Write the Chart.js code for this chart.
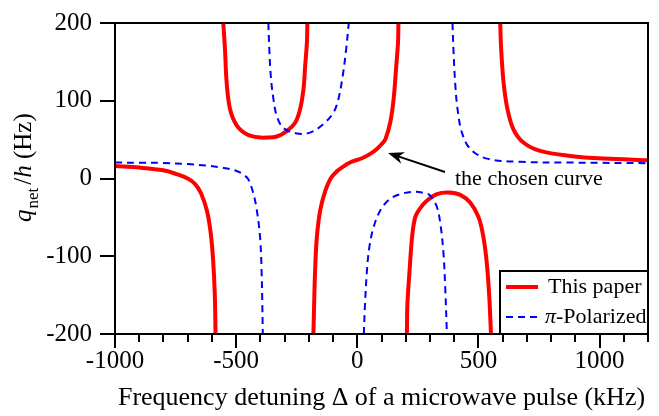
<!DOCTYPE html>
<html>
<head>
<meta charset="utf-8">
<script src="https://cdn.jsdelivr.net/npm/chart.js@4"></script>
<style>
  html, body { margin: 0; padding: 0; background: #fff; }
  #wrap { width: 659px; height: 416px; }
</style>
</head>
<body>
<div id="wrap"><canvas id="myChart" width="659" height="416"></canvas></div>
<script>
// red solid branches (This paper)
const paperX1 = [-1000,-900,-800,-750,-700,-670,-645,-620,-605,-595,-588,-585];
const paperY1 = [16,14,10.5,6,0,-7,-19,-42,-70,-105,-150,-200];
const paperX2 = [-553,-546,-539,-525,-497,-456,-410,-373,-332,-291,-256,-236,-222,-215,-208,-206];
const paperY2 = [200,166,123,89,68,57,53,52.6,54,61,72,89,115,145,174,200];
const paperX3 = [-181,-178,-174,-167,-153,-132,-110,-85,-55,-30,0,26,55,81,100,116,136,150,161,168,170];
const paperY3 = [-200,-161,-118,-76,-41,-16,0,9,16,20.5,24,27,32,38,44,50.5,72,102,145,174,200];
const paperX4 = [205,207,216,226,239,260,287,329,377,425,466,501,521,535,545,552];
const paperY4 = [-200,-161,-118,-76,-50,-38,-28.6,-20,-18,-21,-31,-50,-76,-110,-153,-200];
const paperX5 = [590,594,604,620,645,687,755,879,1017,1200];
const paperY5 = [200,166,123,89,63,46,35.5,29,25.6,23.5];

// blue dashed branches (pi-Polarized)
const piX1 = [-1000,-900,-800,-700,-620,-560,-500,-470,-450,-430,-415,-401,-395,-392,-390];
const piY1 = [20.5,20.3,20,18.5,16.5,14,10,5,-1,-18,-40,-76,-118,-161,-200];
const piX2 = [-367,-363,-357,-346,-332,-305,-250,-195,-140,-98,-78,-60,-46,-35];
const piY2 = [200,166,132,102,80,65,58,59,70,85,102,132,166,200];
const piX3 = [27,32,40,50,67,95,136,191,240,280,301,329,345,356,363,370];
const piY3 = [-200,-161,-118,-88,-63,-41,-26,-19,-17,-19,-22,-37,-63,-97,-140,-200];
const piX4 = [393,397,404,414,432,466,535,673,879,1200];
const piY4 = [200,166,123,89,59,38,25.6,21.5,20.5,19.7];

const xTicks = [-1000,-500,0,500,1000];
const yTicks = [-200,-100,0,100,200];
const seriesNames = ['This paper','π-Polarized'];

const FONT = 'Liberation Serif';

function toPoints(xs, ys){
    return xs.map((x,i) => ({x:x, y:ys[i]}));
}

function branch(xs, ys, dashed){
    return {
        data: toPoints(xs, ys),
        showLine: true,
        pointRadius: 0,
        borderColor: dashed ? '#0000ff' : '#ff0000',
        borderWidth: dashed ? 2 : 4,
        borderDash: dashed ? [7,5] : [],
        tension: 0.35,
        fill: false
    };
}

const datasets = [
    branch(piX1, piY1, true),
    branch(piX2, piY2, true),
    branch(piX3, piY3, true),
    branch(piX4, piY4, true),
    branch(paperX1, paperY1, false),
    branch(paperX2, paperY2, false),
    branch(paperX3, paperY3, false),
    branch(paperX4, paperY4, false),
    branch(paperX5, paperY5, false)
];

// frame, minor ticks, y title, legend, arrow
const extras = {
    id: 'extras',
    afterDraw(chart){
        const ctx = chart.ctx;
        const a = chart.chartArea;
        const xs = chart.scales.x;
        ctx.save();

        // minor ticks
        ctx.strokeStyle = '#000';
        ctx.lineWidth = 2;
        for (let v = -1000; v <= 1200; v += 100){
            if (xTicks.includes(v)) continue;
            const px = Math.round(xs.getPixelForValue(v));
            ctx.beginPath();
            ctx.moveTo(px, a.bottom);
            ctx.lineTo(px, a.bottom + 8);
            ctx.stroke();
        }

        // frame
        ctx.strokeRect(a.left, a.top, a.right - a.left, a.bottom - a.top);

        // y axis title
        ctx.save();
        ctx.translate(31, 222);
        ctx.rotate(-Math.PI/2);
        ctx.fillStyle = '#000';
        ctx.textBaseline = 'alphabetic';
        let x = 0;
        ctx.font = 'italic 25px "' + FONT + '"';
        ctx.fillText('q', x, 0); x += ctx.measureText('q').width + 1;
        ctx.font = '17px "' + FONT + '"';
        ctx.fillText('net', x, 7); x += ctx.measureText('net').width + 3;
        ctx.font = '25px "' + FONT + '"';
        ctx.fillText('/', x, 0); x += ctx.measureText('/').width;
        ctx.font = 'italic 25px "' + FONT + '"';
        ctx.fillText('h', x, 0); x += ctx.measureText('h').width;
        ctx.font = '25px "' + FONT + '"';
        ctx.fillText(' (Hz)', x, 0);
        ctx.restore();

        // legend
        const lx = 500, ly = 271;
        ctx.fillStyle = '#fff';
        ctx.fillRect(lx, ly, a.right - lx, a.bottom - ly);
        ctx.strokeStyle = '#000';
        ctx.lineWidth = 2;
        ctx.strokeRect(lx, ly, a.right - lx, a.bottom - ly);
        ctx.strokeStyle = '#ff0000';
        ctx.lineWidth = 4;
        ctx.beginPath(); ctx.moveTo(506, 287); ctx.lineTo(538, 287); ctx.stroke();
        ctx.strokeStyle = '#0000ff';
        ctx.lineWidth = 2;
        ctx.setLineDash([7,5]);
        ctx.beginPath(); ctx.moveTo(506, 317); ctx.lineTo(540, 317); ctx.stroke();
        ctx.setLineDash([]);
        ctx.fillStyle = '#000';
        ctx.font = '22px "' + FONT + '"';
        ctx.fillText(seriesNames[0], 548, 293);
        ctx.font = 'italic 22px "' + FONT + '"';
        ctx.fillText('π', 545, 323);
        const pw = ctx.measureText('π').width;
        ctx.font = '22px "' + FONT + '"';
        ctx.fillText(seriesNames[1].slice(1), 545 + pw, 323);

        // arrow + note
        const tx = 388, ty = 153, fx = 445, fy = 172;
        const ang = Math.atan2(ty - fy, tx - fx);
        ctx.strokeStyle = '#000';
        ctx.lineWidth = 2;
        ctx.beginPath(); ctx.moveTo(fx, fy); ctx.lineTo(tx - 10*Math.cos(ang), ty - 10*Math.sin(ang)); ctx.stroke();
        ctx.beginPath();
        ctx.moveTo(tx, ty);
        ctx.lineTo(tx - 16*Math.cos(ang) + 6*Math.sin(ang), ty - 16*Math.sin(ang) - 6*Math.cos(ang));
        ctx.lineTo(tx - 11*Math.cos(ang), ty - 11*Math.sin(ang));
        ctx.lineTo(tx - 16*Math.cos(ang) - 6*Math.sin(ang), ty - 16*Math.sin(ang) + 6*Math.cos(ang));
        ctx.closePath();
        ctx.fillStyle = '#000';
        ctx.fill();
        ctx.font = '22px "' + FONT + '"';
        ctx.fillText('the chosen curve', 455, 185);

        ctx.restore();
    }
};

const config = {
    type: 'scatter',
    data: { datasets: datasets },
    options: {
        responsive: false,
        animation: false,
        layout: { padding: { top: 22, right: 11, left: 0, bottom: 0 } },
        plugins: { legend: { display: false }, tooltip: { enabled: false } },
        scales: {
            x: {
                type: 'linear',
                min: -1000,
                max: 1200,
                afterFit(scale){ scale.height = 82; },
                afterBuildTicks(scale){
                    const t = [];
                    for (let v = -1000; v <= 1200; v += 100) t.push({value: v});
                    scale.ticks = t;
                },
                ticks: {
                    autoSkip: false,
                    maxRotation: 0,
                    padding: 0,
                    color: '#000',
                    font: { family: FONT, size: 25, lineHeight: 1.1 },
                    callback: v => xTicks.includes(v) ? String(v) : ''
                },
                grid: {
                    drawOnChartArea: false,
                    tickLength: 14,
                    lineWidth: 2,
                    tickColor: c => (c.tick && xTicks.includes(c.tick.value)) ? '#000' : 'rgba(0,0,0,0)'
                },
                border: { display: true, color: '#000', width: 2 },
                title: {
                    display: true,
                    text: 'Frequency detuning Δ of a microwave pulse (kHz)',
                    color: '#000',
                    font: { family: FONT, size: 26 },
                    padding: { top: 0, bottom: 2 }
                }
            },
            y: {
                min: -200,
                max: 200,
                afterFit(scale){ scale.width = 115; },
                afterBuildTicks(scale){
                    scale.ticks = yTicks.map(v => ({value: v}));
                },
                ticks: {
                    padding: 8,
                    color: '#000',
                    font: { family: FONT, size: 25 }
                },
                grid: {
                    drawOnChartArea: false,
                    tickLength: 15,
                    lineWidth: 2,
                    tickColor: '#000'
                },
                border: { display: true, color: '#000', width: 2 }
            }
        }
    },
    plugins: [extras]
};

let ctx = document.getElementById('myChart').getContext('2d');
new Chart(ctx, config);
</script>
</body>
</html>
